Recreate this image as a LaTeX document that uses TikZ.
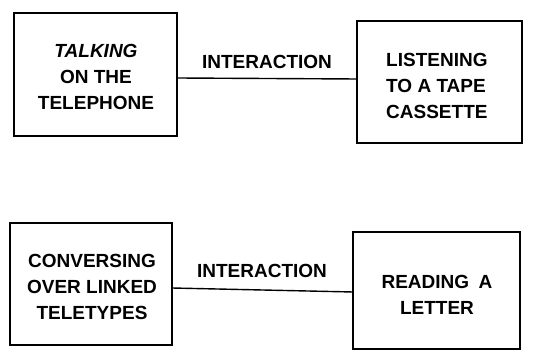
\documentclass[tikz,border=0pt]{standalone}
\usepackage{fontspec}
\setmainfont{Liberation Sans}
\begin{document}
\begin{tikzpicture}[x=1pt,y=-1pt,
  box/.style={draw, line width=1.8pt, minimum width=0pt},
  lbl/.style={font=\fontsize{19}{26}\selectfont\bfseries, inner sep=0pt},
  link/.style={line width=1.4pt}]
\useasboundingbox (0,0) rectangle (549,352);
% boxes
\draw[box] (14,13) rectangle (177,136);
\draw[box] (357,21) rectangle (522,143);
\draw[box] (10,223) rectangle (172,345);
\draw[box] (353,232) rectangle (520,349);
\coordinate (b1e) at (177,78);
\coordinate (b2w) at (357,79);
\coordinate (b3e) at (172,288);
\coordinate (b4w) at (353,292);
% box texts
\node[lbl, align=center] (t1) at (96,77) {\itshape TALKING\\ON THE\\TELEPHONE};
\node[lbl, align=left, anchor=west] (t2) at (386,86) {LISTENING\\TO A TAPE\\CASSETTE};
\node[lbl, align=center] (t3) at (92,287) {CONVERSING\\OVER LINKED\\TELETYPES};
\node[lbl, align=center] (t4) at (437,295) {READING\enspace A\\LETTER};
% connectors
\draw[link] (b1e) -- (b2w);
\draw[link] (b3e) -- (b4w);
\node[lbl] (i1) at (267,62) {INTERACTION};
\node[lbl] (i2) at (262,271) {INTERACTION};
\end{tikzpicture}
\end{document}
